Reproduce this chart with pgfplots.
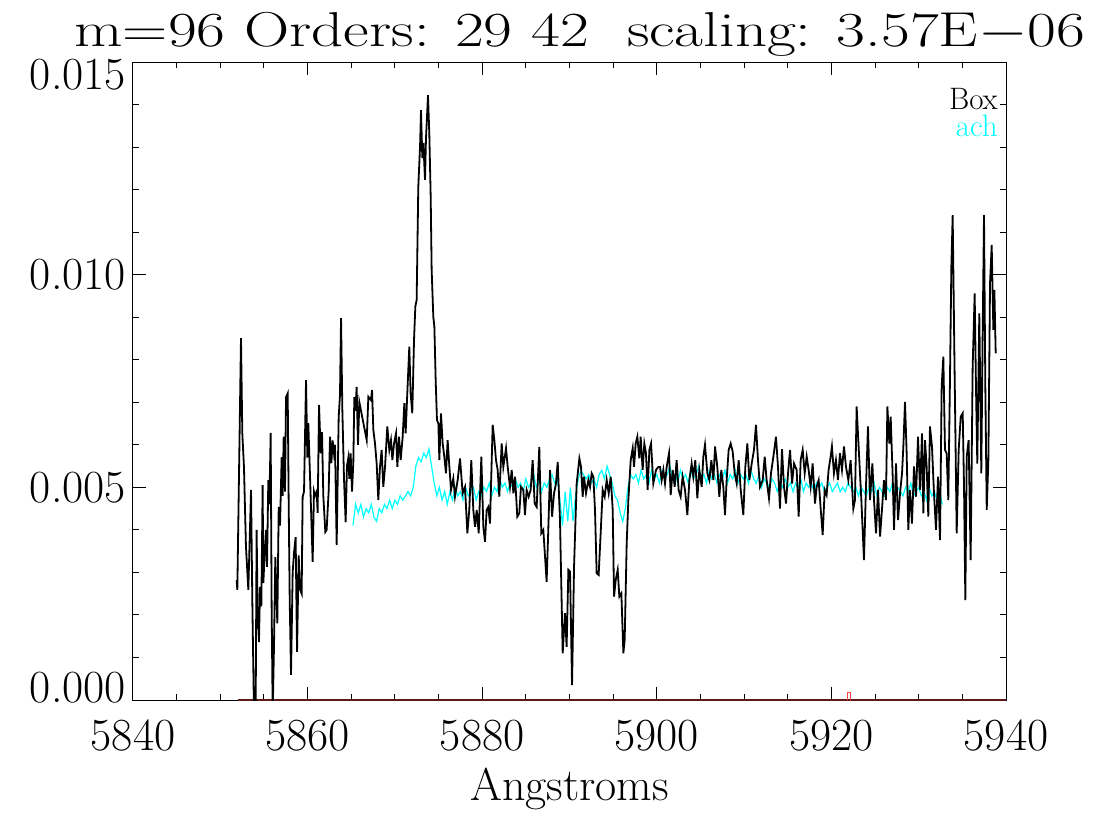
\documentclass[border=0pt]{standalone}
\usepackage{pgfplots}
\usepackage{graphicx}
\pgfplotsset{compat=1.18}
\definecolor{darkredline}{RGB}{95,25,25}
\definecolor{spikered}{RGB}{255,70,70}
\definecolor{aqua}{RGB}{0,255,255}
\begin{document}
\begin{tikzpicture}
\begin{axis}[
  scale only axis, width=436.5pt, height=319pt,
  xmin=5840, xmax=5940, ymin=0, ymax=0.015,
  xtick={5840,5860,5880,5900,5920,5940}, minor x tick num=3,
  ytick={0,0.005,0.01,0.015}, minor y tick num=4,
  scaled y ticks=false, scaled x ticks=false,
  tick align=inside, tick pos=both,
  major tick length=6.5pt, minor tick length=3.2pt,
  axis line style={line width=0.5pt},
  every tick/.style={black, line width=0.5pt},
  x tick label style={font=\fontsize{23}{27}\selectfont, yshift=-6.5pt,
     /pgf/number format/assume math mode=true, /pgf/number format/1000 sep={}},
  y tick label style={font=\fontsize{23}{27}\selectfont,
     /pgf/number format/assume math mode=true,
     /pgf/number format/fixed, /pgf/number format/fixed zerofill,
     /pgf/number format/precision=3},
  yticklabel={\ifcase\ticknum\raisebox{6pt}[\height][\depth]{\pgfmathprintnumber{\tick}}\or\pgfmathprintnumber{\tick}\or\pgfmathprintnumber{\tick}\or\raisebox{-6.5pt}[\height][\depth]{\pgfmathprintnumber{\tick}}\fi},
  xlabel={Angstroms},
  xlabel style={at={(axis description cs:0.5,0)}, anchor=base, yshift=-50pt, font=\fontsize{23}{27}\selectfont},
  title={\scalebox{1.28}[1]{m=96 Orders: 29 42\ \ scaling: 3.57E$-$06}},
  title style={at={(axis description cs:0.512,1)}, anchor=base, yshift=1.5pt, inner sep=0pt, font=\fontsize{24.5}{29}\selectfont},
]
\coordinate (BL) at (rel axis cs:0,0);
\coordinate (TR) at (rel axis cs:1,1);
% red series (at zero)
\addplot[darkredline, line width=1pt] coordinates {(5852.0,0) (5940,0)};
\addplot[spikered, line width=0.6pt] coordinates {(5921.85,0) (5921.85,0.00018) (5922.2,0.00018) (5922.2,0)};
% ach (cyan)
\addplot[aqua, line width=0.6pt] table {
5865.2 0.0041
5865.5 0.0046
5865.8 0.0044
5866.1 0.0046
5866.4 0.0043
5866.7 0.0045
5867.0 0.0044
5867.3 0.0046
5867.6 0.0043
5867.9 0.0042
5868.2 0.0045
5868.5 0.0044
5868.8 0.0046
5869.1 0.0045
5869.4 0.0047
5869.7 0.0045
5870.0 0.0047
5870.3 0.0046
5870.6 0.0048
5870.9 0.0047
5871.2 0.0048
5871.5 0.0049
5871.8 0.0048
5872.1 0.0050
5872.4 0.0055
5872.7 0.0057
5873.0 0.0056
5873.3 0.0058
5873.6 0.0057
5873.9 0.0059
5874.2 0.0055
5874.5 0.0051
5874.8 0.0048
5875.1 0.0050
5875.4 0.0047
5875.7 0.0049
5876.0 0.0046
5876.3 0.0049
5876.6 0.0047
5876.9 0.0050
5877.2 0.0048
5877.5 0.0049
5877.8 0.0047
5878.1 0.0050
5878.4 0.0048
5878.7 0.0049
5879.0 0.0050
5879.3 0.0047
5879.6 0.0049
5879.9 0.0048
5880.2 0.0050
5880.5 0.0049
5880.8 0.0051
5881.1 0.0048
5881.4 0.0050
5881.7 0.0049
5882.0 0.0052
5882.3 0.0050
5882.6 0.0051
5882.9 0.0049
5883.2 0.0051
5883.5 0.0050
5883.8 0.0052
5884.1 0.0050
5884.4 0.0051
5884.7 0.0049
5885.0 0.0052
5885.3 0.0050
5885.6 0.0051
5885.9 0.0053
5886.2 0.0050
5886.5 0.0052
5886.8 0.0049
5887.1 0.0051
5887.4 0.0050
5887.7 0.0052
5888.0 0.0053
5888.3 0.0051
5888.6 0.0052
5888.9 0.0047
5889.2 0.0041
5889.5 0.0049
5889.8 0.0042
5890.1 0.0050
5890.4 0.0042
5890.7 0.0048
5891.0 0.0052
5891.3 0.0054
5891.6 0.0053
5891.9 0.0052
5892.2 0.0053
5892.5 0.0051
5892.8 0.0052
5893.1 0.0050
5893.4 0.0053
5893.7 0.0054
5894.0 0.0052
5894.3 0.0055
5894.6 0.0053
5894.9 0.0051
5895.2 0.0048
5895.5 0.0047
5895.8 0.0044
5896.1 0.0042
5896.4 0.0045
5896.7 0.0050
5897.0 0.0053
5897.3 0.0052
5897.6 0.0053
5897.9 0.0051
5898.2 0.0054
5898.5 0.0052
5898.8 0.0053
5899.1 0.0051
5899.4 0.0054
5899.7 0.0052
5900.0 0.0053
5900.3 0.0051
5900.6 0.0054
5900.9 0.0052
5901.2 0.0053
5901.5 0.0055
5901.8 0.0052
5902.1 0.0053
5902.4 0.0051
5902.7 0.0054
5903.0 0.0052
5903.3 0.0053
5903.6 0.0051
5903.9 0.0054
5904.2 0.0052
5904.5 0.0053
5904.8 0.0055
5905.1 0.0052
5905.4 0.0053
5905.7 0.0051
5906.0 0.0054
5906.3 0.0052
5906.6 0.0053
5906.9 0.0051
5907.2 0.0053
5907.5 0.0052
5907.8 0.0054
5908.1 0.0051
5908.4 0.0053
5908.7 0.0052
5909.0 0.0054
5909.3 0.0051
5909.6 0.0053
5909.9 0.0052
5910.2 0.0053
5910.5 0.0051
5910.8 0.0054
5911.1 0.0052
5911.4 0.0051
5911.7 0.0053
5912.0 0.0050
5912.3 0.0052
5912.6 0.0051
5912.9 0.0050
5913.2 0.0052
5913.5 0.0051
5913.8 0.0049
5914.1 0.0051
5914.4 0.0050
5914.7 0.0052
5915.0 0.0050
5915.3 0.0051
5915.6 0.0049
5915.9 0.0051
5916.2 0.0050
5916.5 0.0052
5916.8 0.0049
5917.1 0.0051
5917.4 0.0050
5917.7 0.0051
5918.0 0.0049
5918.3 0.0051
5918.6 0.0050
5918.9 0.0051
5919.2 0.0049
5919.5 0.0050
5919.8 0.0051
5920.1 0.0049
5920.4 0.0050
5920.7 0.0051
5921.0 0.0049
5921.3 0.0050
5921.6 0.0049
5921.9 0.0051
5922.2 0.0050
5922.5 0.0049
5922.8 0.0050
5923.1 0.0048
5923.4 0.0050
5923.7 0.0049
5924.0 0.0048
5924.3 0.0050
5924.6 0.0049
5924.9 0.0051
5925.2 0.0048
5925.5 0.0050
5925.8 0.0049
5926.1 0.0048
5926.4 0.0050
5926.7 0.0049
5927.0 0.0051
5927.3 0.0048
5927.6 0.0050
5927.9 0.0049
5928.2 0.0048
5928.5 0.0050
5928.8 0.0049
5929.1 0.0051
5929.4 0.0048
5929.7 0.0049
5930.0 0.0050
5930.3 0.0048
5930.6 0.0049
5930.9 0.0047
5931.2 0.0050
5931.5 0.0048
5931.8 0.0049
5932.1 0.0047
5932.4 0.0049
5932.7 0.0046
};
% Box (black)
\addplot[black, line width=0.9pt] table {
5851.87 0.00282
5851.95 0.00259
5852.37 0.00851
5852.52 0.00628
5852.71 0.00548
5852.94 0.00360
5853.21 0.00259
5853.52 0.00494
5853.67 0.00228
5853.86 -0.0003
5854.05 -0.0003
5854.16 0.00400
5854.28 0.00205
5854.43 0.00136
5854.55 0.00266
5854.70 0.00220
5854.85 0.00505
5854.93 0.00275
5855.12 0.00360
5855.23 0.00400
5855.35 0.00313
5855.50 0.00517
5855.62 0.00460
5855.77 0.00628
5855.88 0.00220
5856.00 -0.0003
5856.15 0.00125
5856.30 0.00336
5856.53 0.00180
5856.69 0.00454
5856.84 0.00410
5857.03 0.00571
5857.14 0.00480
5857.26 0.00619
5857.41 0.00490
5857.53 0.00712
5857.72 0.00721
5857.83 0.00470
5857.95 0.00235
5858.10 0.00059
5858.29 0.00300
5858.44 0.00346
5858.63 0.00383
5858.79 0.00113
5858.98 0.00340
5859.13 0.00260
5859.32 0.00250
5859.43 0.00477
5859.59 0.00490
5859.82 0.00752
5859.97 0.00570
5860.08 0.00651
5860.27 0.00530
5860.58 0.00325
5860.73 0.00490
5860.85 0.00480
5861.04 0.00490
5861.15 0.00440
5861.31 0.00694
5861.50 0.00580
5861.65 0.00630
5861.80 0.00480
5862.03 0.00395
5862.18 0.00400
5862.41 0.00490
5862.57 0.00619
5862.72 0.00557
5862.87 0.00610
5863.02 0.00580
5863.14 0.00600
5863.33 0.00364
5863.56 0.00665
5863.71 0.00717
5863.83 0.00898
5863.98 0.00682
5864.17 0.00520
5864.36 0.00418
5864.51 0.00550
5864.67 0.00570
5864.78 0.00520
5864.93 0.00580
5865.09 0.00490
5865.24 0.00560
5865.35 0.00712
5865.47 0.00680
5865.62 0.00736
5865.77 0.00600
5865.93 0.00700
5866.77 0.00611
5866.96 0.00713
5867.26 0.00705
5867.38 0.00729
5867.53 0.00635
5867.72 0.00603
5867.91 0.00556
5868.10 0.00470
5868.29 0.00548
5868.48 0.00588
5868.67 0.00501
5868.87 0.00548
5869.13 0.00643
5869.36 0.00588
5869.55 0.00611
5869.71 0.00564
5869.90 0.00603
5870.13 0.00627
5870.28 0.00548
5870.47 0.00619
5870.66 0.00564
5870.89 0.00619
5871.08 0.00698
5871.23 0.00627
5871.42 0.00721
5871.65 0.00831
5871.80 0.00721
5871.99 0.00674
5872.19 0.00846
5872.34 0.00925
5872.49 0.00940
5872.68 0.01207
5872.88 0.01301
5872.99 0.01387
5873.14 0.01274
5873.26 0.01309
5873.45 0.01223
5873.56 0.01320
5873.79 0.01422
5873.94 0.01332
5874.10 0.01183
5874.21 0.01011
5874.40 0.00901
5874.52 0.00878
5874.67 0.00752
5874.82 0.00658
5874.98 0.00650
5875.09 0.00564
5875.28 0.00674
5875.47 0.00603
5875.66 0.00572
5875.85 0.00533
5876.04 0.00611
5876.24 0.00548
5876.43 0.00494
5876.69 0.00521
5876.88 0.00478
5877.19 0.00517
5877.46 0.00568
5877.76 0.00486
5878.03 0.00501
5878.30 0.00392
5878.52 0.00447
5878.75 0.00564
5878.98 0.00447
5879.18 0.00407
5879.37 0.00447
5879.60 0.00392
5879.90 0.00572
5880.13 0.00407
5880.32 0.00372
5880.51 0.00447
5880.70 0.00454
5880.89 0.00415
5881.20 0.00647
5881.39 0.00611
5881.58 0.00564
5881.77 0.00541
5881.96 0.00478
5882.23 0.00603
5882.42 0.00548
5882.73 0.00592
5882.92 0.00548
5883.18 0.00501
5883.38 0.00541
5883.57 0.00486
5883.76 0.00525
5884.02 0.00431
5884.25 0.00439
5884.44 0.00501
5884.71 0.00494
5884.90 0.00435
5885.09 0.00494
5885.32 0.00478
5885.55 0.00494
5885.78 0.00564
5886.01 0.00462
5886.24 0.00454
5886.54 0.00595
5886.77 0.00392
5887.00 0.00400
5887.38 0.00278
5887.58 0.00407
5887.77 0.00541
5888.00 0.00431
5888.23 0.00486
5888.45 0.00509
5888.65 0.00560
5888.91 0.00423
5889.22 0.00110
5889.48 0.00204
5889.67 0.00125
5889.87 0.00306
5890.06 0.00302
5890.29 0.00035
5890.52 0.00313
5890.82 0.00509
5891.13 0.00568
5891.32 0.00548
5891.51 0.00478
5891.66 0.00525
5891.89 0.00486
5892.16 0.00517
5892.35 0.00501
5892.54 0.00533
5892.73 0.00525
5892.92 0.00447
5893.11 0.00298
5893.34 0.00294
5893.57 0.00392
5893.80 0.00494
5894.03 0.00478
5894.26 0.00517
5894.49 0.00486
5894.72 0.00525
5894.95 0.00447
5895.10 0.00243
5895.29 0.00282
5895.52 0.00306
5895.71 0.00243
5895.94 0.00251
5896.17 0.00110
5896.32 0.00141
5896.55 0.00368
5896.74 0.00470
5897.01 0.00564
5897.24 0.00592
5897.39 0.00548
5897.58 0.00603
5897.77 0.00619
5898.00 0.00568
5898.15 0.00619
5898.38 0.00541
5898.57 0.00603
5898.76 0.00580
5898.95 0.00494
5899.15 0.00588
5899.34 0.00603
5899.60 0.00509
5899.91 0.00541
5900.18 0.00548
5900.37 0.00548
5900.56 0.00517
5900.75 0.00541
5900.94 0.00509
5901.13 0.00548
5901.40 0.00580
5901.59 0.00482
5901.82 0.00541
5902.05 0.00501
5902.27 0.00564
5902.50 0.00494
5902.73 0.00478
5902.96 0.00525
5903.23 0.00494
5903.50 0.00435
5903.73 0.00517
5903.99 0.00556
5904.18 0.00525
5904.41 0.00564
5904.64 0.00474
5904.87 0.00541
5905.14 0.00501
5905.33 0.00572
5905.52 0.00600
5905.79 0.00533
5906.02 0.00517
5906.25 0.00564
5906.48 0.00517
5906.67 0.00596
5906.93 0.00548
5907.16 0.00478
5907.39 0.00541
5907.62 0.00501
5907.81 0.00435
5908.00 0.00517
5908.23 0.00588
5908.46 0.00603
5908.69 0.00584
5908.92 0.00533
5909.15 0.00509
5909.38 0.00564
5909.61 0.00494
5909.91 0.00435
5910.14 0.00548
5910.37 0.00603
5910.60 0.00517
5910.87 0.00556
5911.13 0.00588
5911.36 0.00647
5911.59 0.00564
5911.82 0.00501
5912.13 0.00517
5912.36 0.00572
5912.58 0.00517
5912.85 0.00474
5913.08 0.00533
5913.35 0.00572
5913.65 0.00619
5913.88 0.00548
5914.11 0.00450
5914.34 0.00590
5914.57 0.00501
5914.80 0.00462
5915.03 0.00533
5915.26 0.00588
5915.49 0.00509
5915.72 0.00556
5916.02 0.00541
5916.25 0.00431
5916.48 0.00564
5916.71 0.00588
5916.94 0.00533
5917.17 0.00572
5917.39 0.00541
5917.62 0.00501
5917.85 0.00556
5918.12 0.00462
5918.31 0.00501
5918.54 0.00517
5918.77 0.00450
5919.00 0.00388
5919.23 0.00494
5919.45 0.00482
5919.68 0.00541
5919.91 0.00572
5920.06 0.00596
5920.29 0.00533
5920.52 0.00564
5920.75 0.00517
5920.98 0.00580
5921.21 0.00541
5921.44 0.00596
5921.67 0.00548
5921.94 0.00517
5922.20 0.00564
5922.51 0.00450
5922.70 0.00470
5922.89 0.00690
5923.08 0.00611
5923.43 0.00470
5923.73 0.00329
5923.96 0.00502
5924.19 0.00643
5924.42 0.00470
5924.69 0.00556
5924.88 0.00470
5925.11 0.00392
5925.34 0.00494
5925.57 0.00384
5925.79 0.00447
5926.02 0.00517
5926.25 0.00470
5926.41 0.00690
5926.64 0.00603
5926.79 0.00666
5927.02 0.00525
5927.17 0.00400
5927.40 0.00556
5927.63 0.00423
5927.86 0.00486
5928.09 0.00533
5928.24 0.00596
5928.43 0.00701
5928.62 0.00580
5928.81 0.00400
5929.00 0.00494
5929.23 0.00415
5929.46 0.00549
5929.69 0.00478
5929.92 0.00619
5930.15 0.00494
5930.38 0.00627
5930.53 0.00439
5930.72 0.00611
5930.91 0.00549
5931.10 0.00431
5931.29 0.00643
5931.52 0.00596
5931.75 0.00486
5931.98 0.00400
5932.21 0.00525
5932.44 0.00376
5932.63 0.00737
5932.82 0.00807
5933.01 0.00588
5933.20 0.00580
5933.39 0.00470
5933.58 0.00752
5933.74 0.01019
5933.89 0.01140
5934.08 0.00823
5934.35 0.00392
5934.58 0.00588
5934.81 0.00666
5935.04 0.00674
5935.19 0.00502
5935.34 0.00235
5935.50 0.00572
5935.72 0.00611
5935.95 0.00329
5936.18 0.00784
5936.41 0.00956
5936.56 0.00737
5936.71 0.00556
5936.94 0.00909
5937.17 0.00533
5937.33 0.00870
5937.48 0.01140
5937.63 0.00737
5937.79 0.00447
5937.98 0.00564
5938.17 0.00980
5938.36 0.01070
5938.55 0.00870
5938.67 0.00964
5938.82 0.00815
};
\node[anchor=base east, font=\fontsize{15.5}{18}\selectfont, text=black, inner sep=0pt] at (rel axis cs:0.991,0.926) {Box};
\node[anchor=base east, font=\fontsize{15.5}{18}\selectfont, text=aqua, inner sep=0pt] at (rel axis cs:0.991,0.884) {ach};
\end{axis}
\pgfresetboundingbox
\path[use as bounding box] ([xshift=-66.5pt,yshift=-57.5pt]BL) rectangle ([xshift=50pt,yshift=31pt]TR);
\end{tikzpicture}
\end{document}
